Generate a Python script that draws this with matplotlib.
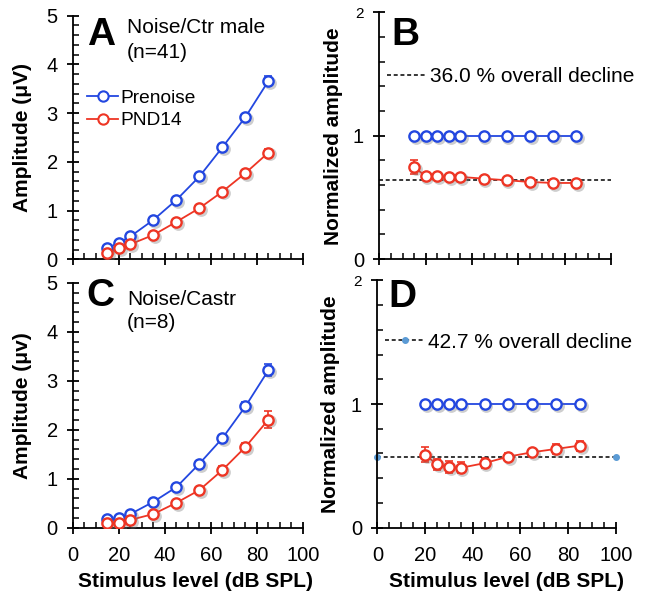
import matplotlib
matplotlib.use('Agg')
import matplotlib.pyplot as plt
from matplotlib.transforms import ScaledTranslation
from matplotlib.lines import Line2D
from matplotlib.ticker import MultipleLocator

plt.rcParams['font.family'] = ['Liberation Sans', 'DejaVu Sans']

# ---------------- data ----------------
levels_AC = [15, 20, 25, 35, 45, 55, 65, 75, 85]
pre_A = [0.23, 0.34, 0.47, 0.81, 1.22, 1.70, 2.30, 2.92, 3.66]
pre_A_err = [0.03, 0.03, 0.03, 0.04, 0.05, 0.05, 0.06, 0.07, 0.10]
pnd_A = [0.12, 0.23, 0.31, 0.50, 0.77, 1.05, 1.39, 1.77, 2.19]
pnd_A_err = [0.02, 0.02, 0.03, 0.03, 0.04, 0.04, 0.05, 0.06, 0.07]

levels_B = [15, 20, 25, 30, 35, 45, 55, 65, 75, 85]
norm_pre_B = [1, 1, 1, 1, 1, 1, 1, 1, 1, 1]
norm_pnd_B = [0.747, 0.671, 0.671, 0.666, 0.666, 0.652, 0.639, 0.625, 0.617, 0.617]
norm_pnd_B_err = [0.06, 0.03, 0.02, 0.025, 0.02, 0.015, 0.01, 0.01, 0.01, 0.01]
decline_B = 36.0

pre_C = [0.17, 0.19, 0.28, 0.53, 0.83, 1.31, 1.83, 2.48, 3.22]
pre_C_err = [0.02, 0.02, 0.03, 0.04, 0.05, 0.05, 0.06, 0.09, 0.13]
pnd_C = [0.09, 0.10, 0.16, 0.28, 0.51, 0.77, 1.18, 1.65, 2.21]
pnd_C_err = [0.02, 0.02, 0.02, 0.03, 0.04, 0.05, 0.08, 0.09, 0.18]

levels_D = [20, 25, 30, 35, 45, 55, 65, 75, 85]
norm_pre_D = [1, 1, 1, 1, 1, 1, 1, 1, 1]
norm_pnd_D = [0.591, 0.511, 0.489, 0.484, 0.522, 0.575, 0.610, 0.637, 0.664]
norm_pnd_D_err = [0.06, 0.045, 0.05, 0.045, 0.04, 0.03, 0.03, 0.04, 0.04]
decline_D = 42.7

decline_x = [0, 100]

BLUE = '#2347e0'
RED = '#ee3524'
DOT = '#5b9bd5'

TICK_FS = 14.5
LAB_FS = 15
TITLE_FS = 15
LEG_FS = 15

fig = plt.figure(figsize=(6.46, 5.95), dpi=100)
axA = fig.add_axes([0.1130, 0.5642, 0.356, 0.4096])
axB = fig.add_axes([0.5872, 0.5647, 0.3587, 0.4143])
axC = fig.add_axes([0.1130, 0.1131, 0.356, 0.4113])
axD = fig.add_axes([0.5841, 0.1131, 0.369, 0.4158])


def series(ax, x, y, err, color):
    if err is not None:
        ax.errorbar(x, y, yerr=err, fmt='none', ecolor=color, elinewidth=1.2,
                    capsize=3, capthick=1.2, zorder=2)
    ax.plot(x, y, '-', color=color, lw=1.3, zorder=3)
    shadow = ax.transData + ScaledTranslation(1.2 / 72, -1.4 / 72, fig.dpi_scale_trans)
    ax.plot(x, y, 'o', ls='none', ms=9.2, color='0.45', alpha=0.35, mec='none',
            transform=shadow, zorder=3.5)
    ax.plot(x, y, 'o', ls='none', ms=7.4, mfc='white', mec=color, mew=1.7, zorder=4)


def style(ax, ymax, ymajor, yminor):
    ax.set_xlim(0, 100)
    ax.set_ylim(0, ymax)
    for s in ['top', 'right']:
        ax.spines[s].set_visible(False)
    for s in ['left', 'bottom']:
        ax.spines[s].set_linewidth(1.3)
    ax.xaxis.set_major_locator(MultipleLocator(20))
    ax.xaxis.set_minor_locator(MultipleLocator(5))
    ax.yaxis.set_major_locator(MultipleLocator(ymajor))
    ax.yaxis.set_minor_locator(MultipleLocator(yminor))
    ax.tick_params(which='major', direction='inout', length=9, width=1.3, labelsize=TICK_FS)
    ax.tick_params(axis='x', which='major', pad=9)
    ax.tick_params(axis='y', which='major', pad=6.5)
    ax.tick_params(which='minor', direction='in', length=4, width=1.1)
    for sp in ax.spines.values():
        sp.set_clip_on(False)


for ax in (axA, axC):
    style(ax, 5, 1, 0.2)
for ax in (axB, axD):
    style(ax, 2, 1, 0.2)

# Panel A
series(axA, levels_AC, pre_A, pre_A_err, BLUE)
series(axA, levels_AC, pnd_A, pnd_A_err, RED)
hA = [Line2D([], [], color=BLUE, marker='o', mfc='white', mec=BLUE, ms=7.4, mew=1.5, lw=1.3),
      Line2D([], [], color=RED, marker='o', mfc='white', mec=RED, ms=7.4, mew=1.5, lw=1.3)]
axA.legend(hA, ['Prenoise', 'PND14'], loc='center left', bbox_to_anchor=(0.062, 0.615),
           frameon=False, fontsize=13.8, handlelength=1.6, handletextpad=0.12,
           labelspacing=0.25, borderpad=0, borderaxespad=0, numpoints=1)

# Panel B
series(axB, levels_B, norm_pre_B, None, BLUE)
series(axB, levels_B, norm_pnd_B, norm_pnd_B_err, RED)
lvB = 1 - decline_B / 100
lB, = axB.plot(decline_x, [lvB, lvB], color='black', lw=1.1, dashes=(2.6, 1.8), zorder=2.5)
axB.legend([lB], [f'{decline_B:.1f} % overall decline'], loc='center left',
           bbox_to_anchor=(0.035, 0.74), frameon=False, fontsize=LEG_FS,
           handlelength=1.9, handletextpad=0.15, borderpad=0, borderaxespad=0)

# Panel C
series(axC, levels_AC, pre_C, pre_C_err, BLUE)
series(axC, levels_AC, pnd_C, pnd_C_err, RED)

# Panel D
series(axD, levels_D, norm_pre_D, None, BLUE)
series(axD, levels_D, norm_pnd_D, norm_pnd_D_err, RED)
lvD = 1 - decline_D / 100
lD, = axD.plot(decline_x, [lvD, lvD], color='black', lw=1.1, dashes=(2.6, 1.8),
               marker='o', ms=4, mfc=DOT, mec=DOT, zorder=2.5, clip_on=False)
axD.legend([lD], [f'{decline_D:.1f} % overall decline'], loc='center left',
           bbox_to_anchor=(0.032, 0.75), frameon=False, fontsize=LEG_FS,
           handlelength=1.9, handletextpad=0.15, borderpad=0, borderaxespad=0,
           numpoints=1)

# tick labels
axA.tick_params(axis='x', labelbottom=False)
axB.tick_params(axis='x', labelbottom=False)
for ax in (axB, axD):
    ax.set_yticks([0, 1, 2], labels=['0', '1', '2'])
    ax.get_yticklabels()[2].set_fontsize(11)

# axis labels
lab = dict(fontsize=LAB_FS, fontweight='bold')
axA.set_ylabel('Amplitude (μV)', **lab)
axA.yaxis.set_label_coords(-0.18, 0.5)
axC.set_ylabel('Amplitude (μv)', **lab)
axC.yaxis.set_label_coords(-0.18, 0.5)
axB.set_ylabel('Normalized amplitude', **lab)
axB.yaxis.set_label_coords(-0.157, 0.5)
axD.set_ylabel('Normalized amplitude', **lab)
axD.yaxis.set_label_coords(-0.156, 0.5)
axC.set_xlabel('Stimulus level (dB SPL)', **lab)
axC.xaxis.set_label_coords(0.534, -0.18)
axD.set_xlabel('Stimulus level (dB SPL)', **lab)
axD.xaxis.set_label_coords(0.54, -0.18)

# panel letters and titles
big = dict(fontsize=28, fontweight='bold', va='baseline', ha='left')
mid = dict(fontsize=TITLE_FS, va='baseline', ha='left')
axA.text(0.06, 0.879, 'A', transform=axA.transAxes, **big)
axA.text(0.235, 0.929, 'Noise/Ctr male', transform=axA.transAxes, **mid)
axA.text(0.235, 0.826, '(n=41)', transform=axA.transAxes, **mid)
axB.text(0.05, 0.868, 'B', transform=axB.transAxes, **big)
axC.text(0.06, 0.906, 'C', transform=axC.transAxes, **big)
axC.text(0.235, 0.909, 'Noise/Castr', transform=axC.transAxes, **mid)
axC.text(0.235, 0.816, '(n=8)', transform=axC.transAxes, **mid)
axD.text(0.048, 0.892, 'D', transform=axD.transAxes, **big)

fig.savefig('out.png', dpi=100)
